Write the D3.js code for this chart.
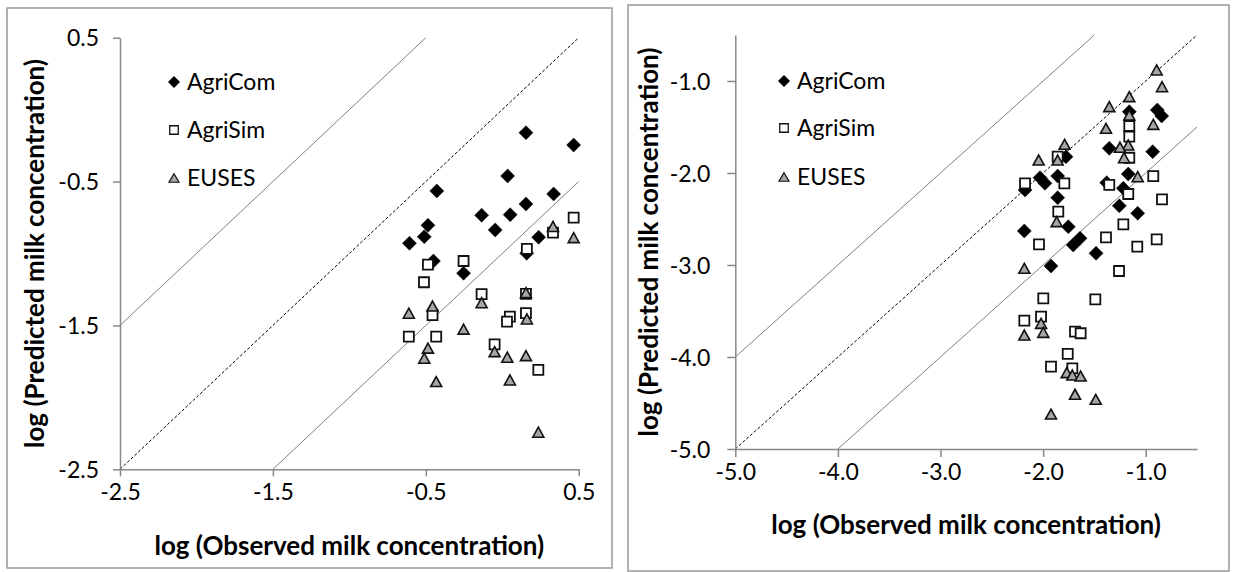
<!DOCTYPE html>
<html>
<head>
<meta charset="utf-8">
<script src="https://cdn.jsdelivr.net/npm/d3@7"></script>
<style>
  html, body { margin: 0; padding: 0; background: #fff; }
  svg { display: block; }
  text { font-family: Lato, "Open Sans", sans-serif; fill: #000; }
</style>
</head>
<body>
<svg id="chart" width="1233" height="572"></svg>
<script>
// ---------------- DATA ----------------
const seriesNames = ["AgriCom", "AgriSim", "EUSES"];

// Left panel: [observed, predicted] (log)
const leftAgriCom = [
  [0.155, -0.160], [0.467, -0.246], [0.035, -0.461], [-0.428, -0.565],
  [0.336, -0.586], [0.155, -0.656], [0.052, -0.730], [-0.135, -0.734],
  [-0.486, -0.804], [-0.046, -0.836], [-0.510, -0.883], [-0.607, -0.929],
  [0.238, -0.887], [0.160, -0.998], [-0.450, -1.052], [-0.253, -1.137]
];
const leftAgriSim = [
  [0.467, -0.751], [0.332, -0.855], [0.161, -0.968], [-0.253, -1.052],
  [-0.486, -1.077], [-0.512, -1.200], [-0.135, -1.283], [0.155, -1.281],
  [-0.456, -1.429], [0.155, -1.415], [0.050, -1.439], [0.031, -1.474],
  [-0.611, -1.578], [-0.432, -1.578], [-0.050, -1.631], [0.236, -1.809]
];
const leftEUSES = [
  [0.332, -0.812], [0.467, -0.890], [0.155, -1.272], [-0.135, -1.342],
  [-0.611, -1.415], [-0.456, -1.365], [0.161, -1.455], [-0.253, -1.526],
  [-0.486, -1.658], [-0.510, -1.728], [-0.050, -1.682], [0.033, -1.721],
  [0.155, -1.710], [-0.432, -1.890], [0.050, -1.879], [0.236, -2.242]
];

// Right panel: [observed, predicted] (log)
const rightAgriCom = [
  [-0.887, -1.315], [-0.844, -1.380], [-1.160, -1.333], [-1.355, -1.732],
  [-0.932, -1.768], [-1.777, -1.823], [-2.030, -2.051], [-1.982, -2.112],
  [-1.858, -2.033], [-2.176, -2.185], [-1.170, -2.011], [-1.380, -2.105],
  [-1.218, -2.166], [-1.858, -2.268], [-1.257, -2.357], [-1.078, -2.438],
  [-2.183, -2.630], [-1.754, -2.584], [-1.640, -2.710], [-1.706, -2.783],
  [-1.484, -2.873], [-1.923, -3.011]
];
const rightAgriSim = [
  [-1.160, -1.489], [-1.160, -1.605], [-1.160, -1.834], [-1.858, -1.823],
  [-2.176, -2.112], [-1.793, -2.112], [-1.355, -2.130], [-0.926, -2.033],
  [-1.170, -2.228], [-0.841, -2.286], [-1.852, -2.420], [-1.218, -2.558],
  [-1.387, -2.699], [-0.893, -2.721], [-1.082, -2.801], [-2.040, -2.775],
  [-1.260, -3.065], [-1.998, -3.362], [-1.491, -3.373], [-2.183, -3.605],
  [-2.020, -3.562], [-1.689, -3.725], [-1.634, -3.742], [-1.760, -3.967],
  [-1.923, -4.105], [-1.715, -4.123]
];
const rightEUSES = [
  [-0.893, -0.880], [-0.841, -1.062], [-1.160, -1.170], [-1.355, -1.279],
  [-1.160, -1.370], [-0.926, -1.471], [-1.387, -1.514], [-1.170, -1.696],
  [-1.251, -1.720], [-1.211, -1.834], [-1.790, -1.688], [-2.043, -1.859],
  [-1.858, -1.859], [-1.078, -2.040], [-1.868, -2.529], [-2.183, -3.036],
  [-2.020, -3.634], [-2.183, -3.761], [-1.998, -3.732], [-1.770, -4.170],
  [-1.715, -4.196], [-1.634, -4.207], [-1.689, -4.405], [-1.487, -4.460],
  [-1.923, -4.620]
];

// Axes
const leftDomain = [-2.5, 0.5];
const leftTicks = [-2.5, -1.5, -0.5, 0.5];
const leftTickLabels = ["-2.5", "-1.5", "-0.5", "0.5"];
const rightDomain = [-5.0, -0.5];
const rightTicks = [-5, -4, -3, -2, -1];
const rightTickLabels = ["-5.0", "-4.0", "-3.0", "-2.0", "-1.0"];

const xTitle = "log (Observed milk concentration)";
const yTitle = "log (Predicted milk concentration)";

// ---------------- DRAWING ----------------
const svg = d3.select("#chart");
const FONT = 'Lato, "Open Sans", sans-serif';
const AXIS_COLOR = "#898989";

function diamondPath(r) { return `M0,${-r}L${r},0L0,${r}L${-r},0Z`; }
function squarePath(s) { const h = s / 2; return `M${-h},${-h}H${h}V${h}H${-h}Z`; }
function trianglePath(w, h) { return `M0,${-h/2}L${w/2},${h/2}L${-w/2},${h/2}Z`; }

function drawPanel(cfg) {
  const g = svg.append("g");
  // frame
  g.append("rect")
    .attr("x", cfg.frame[0]).attr("y", cfg.frame[1])
    .attr("width", cfg.frame[2]).attr("height", cfg.frame[3])
    .attr("fill", "none").attr("stroke", AXIS_COLOR).attr("stroke-width", 1.3);

  const x = d3.scaleLinear().domain(cfg.domain).range(cfg.xRange);
  const y = d3.scaleLinear().domain(cfg.domain).range(cfg.yRange);

  // reference lines: y = x, y = x + 1, y = x - 1 (clipped to the domain)
  const lo = cfg.domain[0], hi = cfg.domain[1];
  const refLines = [
    { off: 0, dash: "3,2", color: "#000", w: 1 },
    { off: 1, dash: null, color: "#7f7f7f", w: 1 },
    { off: -1, dash: null, color: "#7f7f7f", w: 1 }
  ];
  refLines.forEach(l => {
    const x0 = Math.max(lo, lo - l.off), x1 = Math.min(hi, hi - l.off);
    g.append("line")
      .attr("x1", x(x0)).attr("y1", y(x0 + l.off))
      .attr("x2", x(x1)).attr("y2", y(x1 + l.off))
      .attr("stroke", l.color).attr("stroke-width", l.w)
      .attr("stroke-dasharray", l.dash);
  });

  // axes
  const fmt = d => cfg.labels[cfg.ticks.indexOf(d)];
  const xAxis = g.append("g")
    .attr("transform", `translate(0,${cfg.yRange[0]})`)
    .call(d3.axisBottom(x).tickValues(cfg.ticks).tickFormat(fmt).tickSizeInner(cfg.tick).tickSizeOuter(0).tickPadding(7));
  const yAxis = g.append("g")
    .attr("transform", `translate(${cfg.xRange[0]},0)`)
    .call(d3.axisLeft(y).tickValues(cfg.ticks).tickFormat(fmt).tickSizeInner(cfg.tick).tickSizeOuter(0).tickPadding(cfg.yPad));
  [xAxis, yAxis].forEach(a => {
    a.select(".domain").attr("stroke", AXIS_COLOR).attr("stroke-width", 1.5);
    a.selectAll(".tick line").attr("stroke", AXIS_COLOR).attr("stroke-width", 1.5);
    a.selectAll(".tick text").attr("font-family", FONT).attr("font-size", 23).attr("fill", "#000");
  });
  yAxis.selectAll(".tick text").attr("dy", "0.36em");

  // markers
  const mk = g.append("g");
  mk.selectAll(".d").data(cfg.agriCom).join("path")
    .attr("d", diamondPath(7))
    .attr("transform", d => `translate(${x(d[0])},${y(d[1])})`)
    .attr("fill", "#000").attr("stroke", "#000").attr("stroke-width", 0.5);
  mk.selectAll(".s").data(cfg.agriSim).join("path")
    .attr("d", squarePath(10))
    .attr("transform", d => `translate(${x(d[0])},${y(d[1])})`)
    .attr("fill", "#fff").attr("stroke", "#111").attr("stroke-width", 1.8);
  mk.selectAll(".t").data(cfg.euses).join("path")
    .attr("d", trianglePath(11, 10))
    .attr("transform", d => `translate(${x(d[0])},${y(d[1])})`)
    .attr("fill", "#a6a6a6").attr("stroke", "#111").attr("stroke-width", 1.6);

  // legend
  const lg = g.append("g");
  const rows = cfg.legendRows;
  const lx = cfg.legendX;
  lg.append("path").attr("d", diamondPath(6)).attr("transform", `translate(${lx},${rows[0]})`).attr("fill", "#000");
  lg.append("path").attr("d", squarePath(8.5)).attr("transform", `translate(${lx},${rows[1]})`)
    .attr("fill", "#fff").attr("stroke", "#111").attr("stroke-width", 1.3);
  lg.append("path").attr("d", trianglePath(10, 8.5)).attr("transform", `translate(${lx},${rows[2]})`)
    .attr("fill", "#a6a6a6").attr("stroke", "#111").attr("stroke-width", 1.2);
  seriesNames.forEach((n, i) => {
    lg.append("text").attr("x", lx + 13).attr("y", rows[i]).attr("dy", "0.36em")
      .attr("font-family", FONT).attr("font-size", 23).text(n);
  });

  // axis titles
  g.append("text")
    .attr("x", (cfg.xRange[0] + cfg.xRange[1]) / 2).attr("y", cfg.xTitleY)
    .attr("text-anchor", "middle").attr("dy", "0.36em")
    .attr("font-family", FONT).attr("font-size", 26).attr("font-weight", "bold")
    .text(xTitle);
  g.append("text")
    .attr("transform", `translate(${cfg.yTitleX},${(cfg.yRange[0] + cfg.yRange[1]) / 2}) rotate(-90)`)
    .attr("text-anchor", "middle").attr("dy", "0.36em")
    .attr("font-family", FONT).attr("font-size", 26).attr("font-weight", "bold")
    .text(yTitle);
}

drawPanel({
  frame: [7, 8, 605, 560],
  domain: leftDomain, ticks: leftTicks, labels: leftTickLabels,
  xRange: [120, 578.7], yRange: [469.3, 37.7],
  tick: 7, yPad: 14,
  agriCom: leftAgriCom, agriSim: leftAgriSim, euses: leftEUSES,
  legendX: 174, legendRows: [82, 130, 178],
  xTitleY: 546, yTitleX: 35
});

drawPanel({
  frame: [628, 5, 601, 566],
  domain: rightDomain, ticks: rightTicks, labels: rightTickLabels,
  xRange: [735.3, 1197.0], yRange: [449, 35],
  tick: 8, yPad: 17,
  agriCom: rightAgriCom, agriSim: rightAgriSim, euses: rightEUSES,
  legendX: 784, legendRows: [81, 128, 177],
  xTitleY: 525, yTitleX: 649
});
</script>
</body>
</html>
